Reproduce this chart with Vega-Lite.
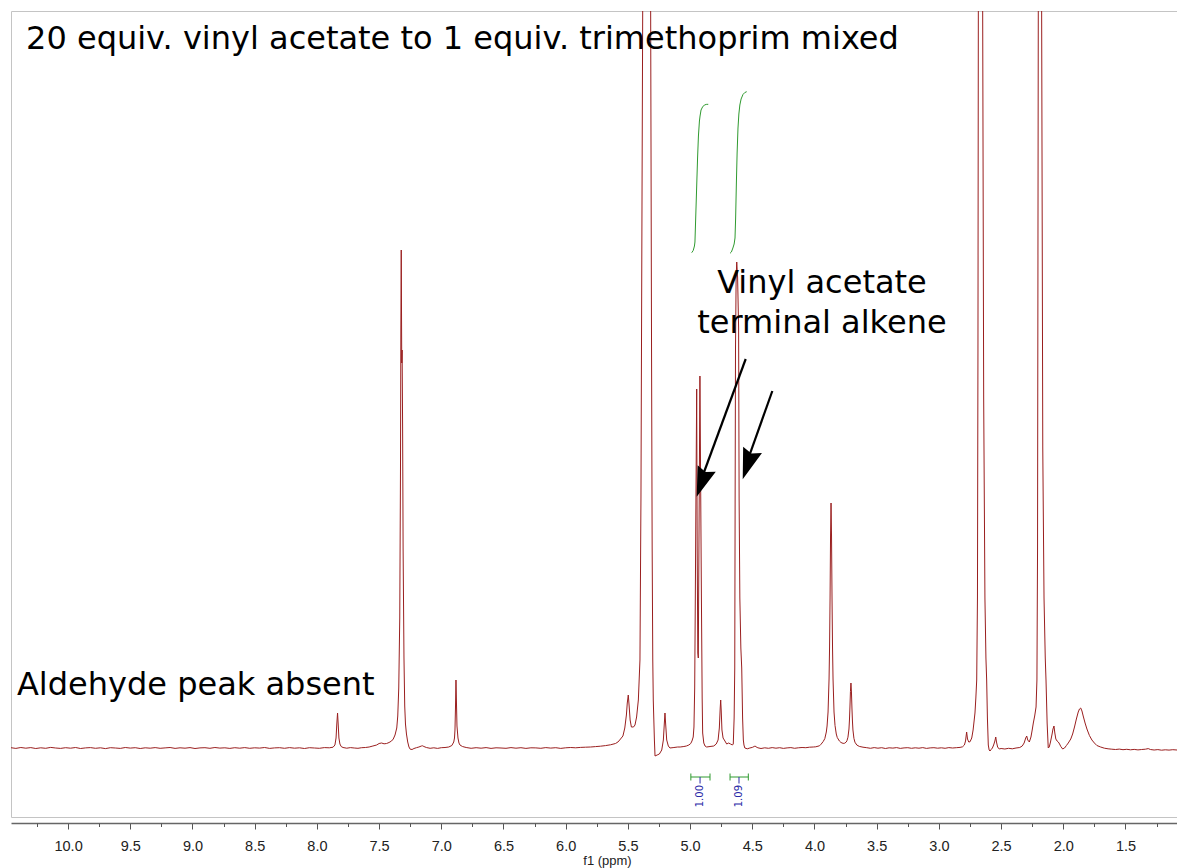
{
  "$schema": "https://vega.github.io/schema/vega-lite/v6.json",
  "width": 1166,
  "height": 806,
  "autosize": {"type": "none"},
  "padding": {"left": 11, "top": 11, "right": 0, "bottom": 51},
  "background": "white",
  "config": {
    "view": {"stroke": "#c4c4c4", "strokeWidth": 1},
    "axisY": {"disable": true}
  },
  "resolve": {"axis": {"x": "independent"}},
  "datasets": {
    "spectrum": [
      {"ppm": 10.46, "intensity": 0.3}, {"ppm": 10.42, "intensity": -0.4}, {"ppm": 10.38, "intensity": 0.5}, {"ppm": 10.34, "intensity": -0.2},
      {"ppm": 10.30, "intensity": 0.4}, {"ppm": 10.26, "intensity": -0.5}, {"ppm": 10.22, "intensity": 0.2}, {"ppm": 10.18, "intensity": -0.3},
      {"ppm": 10.14, "intensity": 0.6}, {"ppm": 10.10, "intensity": 0}, {"ppm": 10.06, "intensity": -0.4}, {"ppm": 10.02, "intensity": 0.3},
      {"ppm": 9.98, "intensity": -0.2}, {"ppm": 9.94, "intensity": 0.5}, {"ppm": 9.90, "intensity": -0.5}, {"ppm": 9.86, "intensity": 0.1},
      {"ppm": 9.82, "intensity": 0.4}, {"ppm": 9.78, "intensity": -0.3}, {"ppm": 9.74, "intensity": 0.2}, {"ppm": 9.70, "intensity": -0.6},
      {"ppm": 9.66, "intensity": 0.3}, {"ppm": 9.62, "intensity": 0}, {"ppm": 9.58, "intensity": -0.4}, {"ppm": 9.54, "intensity": 0.5},
      {"ppm": 9.50, "intensity": -0.1}, {"ppm": 9.46, "intensity": 0.3}, {"ppm": 9.42, "intensity": -0.5}, {"ppm": 9.38, "intensity": 0.2},
      {"ppm": 9.34, "intensity": -0.2}, {"ppm": 9.30, "intensity": 0.4}, {"ppm": 9.26, "intensity": -0.3}, {"ppm": 9.22, "intensity": 0.1},
      {"ppm": 9.18, "intensity": 0.5}, {"ppm": 9.14, "intensity": -0.4}, {"ppm": 9.10, "intensity": 0.2}, {"ppm": 9.06, "intensity": -0.2},
      {"ppm": 9.02, "intensity": 0.4}, {"ppm": 8.98, "intensity": -0.5}, {"ppm": 8.94, "intensity": 0.1}, {"ppm": 8.90, "intensity": 0.3},
      {"ppm": 8.86, "intensity": -0.3}, {"ppm": 8.82, "intensity": 0.5}, {"ppm": 8.78, "intensity": -0.1}, {"ppm": 8.74, "intensity": 0.2},
      {"ppm": 8.70, "intensity": -0.4}, {"ppm": 8.66, "intensity": 0.3}, {"ppm": 8.62, "intensity": -0.2}, {"ppm": 8.58, "intensity": 0.4},
      {"ppm": 8.54, "intensity": -0.3}, {"ppm": 8.50, "intensity": 0.2}, {"ppm": 8.46, "intensity": -0.1}, {"ppm": 8.42, "intensity": 0.5},
      {"ppm": 8.38, "intensity": -0.4}, {"ppm": 8.34, "intensity": 0.1}, {"ppm": 8.30, "intensity": 0.3}, {"ppm": 8.26, "intensity": -0.3},
      {"ppm": 8.22, "intensity": 0.4}, {"ppm": 8.18, "intensity": -0.2}, {"ppm": 8.14, "intensity": 0.2}, {"ppm": 8.10, "intensity": -0.5},
      {"ppm": 8.06, "intensity": 0.3}, {"ppm": 8.02, "intensity": 0}, {"ppm": 7.98, "intensity": -0.3}, {"ppm": 7.94, "intensity": 0.4},
      {"ppm": 7.90, "intensity": 0.2}, {"ppm": 7.87, "intensity": 0.8}, {"ppm": 7.855, "intensity": 3}, {"ppm": 7.846, "intensity": 10},
      {"ppm": 7.84, "intensity": 24}, {"ppm": 7.834, "intensity": 35}, {"ppm": 7.829, "intensity": 24}, {"ppm": 7.823, "intensity": 10},
      {"ppm": 7.815, "intensity": 4}, {"ppm": 7.805, "intensity": 1.5}, {"ppm": 7.79, "intensity": 0.5}, {"ppm": 7.76, "intensity": -0.2},
      {"ppm": 7.73, "intensity": 0.4}, {"ppm": 7.70, "intensity": 0}, {"ppm": 7.67, "intensity": -0.3}, {"ppm": 7.64, "intensity": 0.3},
      {"ppm": 7.61, "intensity": 0.5}, {"ppm": 7.58, "intensity": 1}, {"ppm": 7.55, "intensity": 2}, {"ppm": 7.52, "intensity": 3},
      {"ppm": 7.50, "intensity": 4.5}, {"ppm": 7.48, "intensity": 5}, {"ppm": 7.46, "intensity": 4.2}, {"ppm": 7.44, "intensity": 4.5},
      {"ppm": 7.42, "intensity": 5.5}, {"ppm": 7.40, "intensity": 7}, {"ppm": 7.386, "intensity": 9}, {"ppm": 7.372, "intensity": 13},
      {"ppm": 7.358, "intensity": 20}, {"ppm": 7.35, "intensity": 32}, {"ppm": 7.342, "intensity": 60}, {"ppm": 7.334, "intensity": 130},
      {"ppm": 7.328, "intensity": 280}, {"ppm": 7.325, "intensity": 420}, {"ppm": 7.322, "intensity": 498}, {"ppm": 7.318, "intensity": 385},
      {"ppm": 7.315, "intensity": 398}, {"ppm": 7.311, "intensity": 320}, {"ppm": 7.307, "intensity": 200}, {"ppm": 7.30, "intensity": 90},
      {"ppm": 7.294, "intensity": 42}, {"ppm": 7.288, "intensity": 24}, {"ppm": 7.28, "intensity": 14}, {"ppm": 7.27, "intensity": 6},
      {"ppm": 7.26, "intensity": 1}, {"ppm": 7.25, "intensity": -1.2}, {"ppm": 7.235, "intensity": -1.5}, {"ppm": 7.22, "intensity": -0.5},
      {"ppm": 7.20, "intensity": 0.3}, {"ppm": 7.18, "intensity": 1}, {"ppm": 7.16, "intensity": 2}, {"ppm": 7.15, "intensity": 2.2},
      {"ppm": 7.14, "intensity": 1.5}, {"ppm": 7.12, "intensity": 0.5}, {"ppm": 7.09, "intensity": -0.3}, {"ppm": 7.06, "intensity": 0.2},
      {"ppm": 7.03, "intensity": -0.4}, {"ppm": 7.00, "intensity": 0.3}, {"ppm": 6.97, "intensity": 0.5}, {"ppm": 6.94, "intensity": 1},
      {"ppm": 6.915, "intensity": 2.5}, {"ppm": 6.90, "intensity": 6}, {"ppm": 6.894, "intensity": 10}, {"ppm": 6.89, "intensity": 18},
      {"ppm": 6.886, "intensity": 40}, {"ppm": 6.882, "intensity": 68}, {"ppm": 6.878, "intensity": 45}, {"ppm": 6.874, "intensity": 22},
      {"ppm": 6.866, "intensity": 10}, {"ppm": 6.858, "intensity": 5}, {"ppm": 6.85, "intensity": 3}, {"ppm": 6.83, "intensity": 1.5},
      {"ppm": 6.80, "intensity": 0.5}, {"ppm": 6.76, "intensity": -0.3}, {"ppm": 6.72, "intensity": 0.3}, {"ppm": 6.68, "intensity": -0.2},
      {"ppm": 6.64, "intensity": 0.4}, {"ppm": 6.60, "intensity": -0.4}, {"ppm": 6.56, "intensity": 0.2}, {"ppm": 6.52, "intensity": 0},
      {"ppm": 6.48, "intensity": -0.3}, {"ppm": 6.44, "intensity": 0.4}, {"ppm": 6.40, "intensity": -0.2}, {"ppm": 6.36, "intensity": 0.3},
      {"ppm": 6.32, "intensity": -0.4}, {"ppm": 6.28, "intensity": 0.2}, {"ppm": 6.24, "intensity": 0.1}, {"ppm": 6.20, "intensity": -0.3},
      {"ppm": 6.16, "intensity": 0.4}, {"ppm": 6.12, "intensity": -0.1}, {"ppm": 6.08, "intensity": 0.3}, {"ppm": 6.04, "intensity": -0.4},
      {"ppm": 6.00, "intensity": 0.2}, {"ppm": 5.96, "intensity": 0.5}, {"ppm": 5.92, "intensity": 0.2}, {"ppm": 5.88, "intensity": 0.6},
      {"ppm": 5.84, "intensity": 0.8}, {"ppm": 5.80, "intensity": 1}, {"ppm": 5.76, "intensity": 1.4}, {"ppm": 5.72, "intensity": 1.8},
      {"ppm": 5.68, "intensity": 2.4}, {"ppm": 5.64, "intensity": 3.2}, {"ppm": 5.60, "intensity": 4.5}, {"ppm": 5.58, "intensity": 6},
      {"ppm": 5.566, "intensity": 8}, {"ppm": 5.54, "intensity": 12}, {"ppm": 5.525, "intensity": 20}, {"ppm": 5.512, "intensity": 33},
      {"ppm": 5.505, "intensity": 45}, {"ppm": 5.497, "intensity": 53}, {"ppm": 5.49, "intensity": 42}, {"ppm": 5.482, "intensity": 28},
      {"ppm": 5.472, "intensity": 21}, {"ppm": 5.455, "intensity": 21}, {"ppm": 5.443, "intensity": 23}, {"ppm": 5.43, "intensity": 31},
      {"ppm": 5.416, "intensity": 48}, {"ppm": 5.403, "intensity": 88}, {"ppm": 5.395, "intensity": 250}, {"ppm": 5.388, "intensity": 500},
      {"ppm": 5.381, "intensity": 737}, {"ppm": 5.37, "intensity": 1500}, {"ppm": 5.35, "intensity": 2500}, {"ppm": 5.33, "intensity": 1500},
      {"ppm": 5.317, "intensity": 737}, {"ppm": 5.31, "intensity": 400}, {"ppm": 5.305, "intensity": 200}, {"ppm": 5.30, "intensity": 88},
      {"ppm": 5.296, "intensity": 48}, {"ppm": 5.287, "intensity": 8}, {"ppm": 5.282, "intensity": -8}, {"ppm": 5.265, "intensity": -7},
      {"ppm": 5.247, "intensity": -6}, {"ppm": 5.228, "intensity": -2}, {"ppm": 5.215, "intensity": 8}, {"ppm": 5.207, "intensity": 25},
      {"ppm": 5.202, "intensity": 35}, {"ppm": 5.197, "intensity": 25}, {"ppm": 5.188, "intensity": 8}, {"ppm": 5.175, "intensity": 2},
      {"ppm": 5.162, "intensity": 0}, {"ppm": 5.13, "intensity": 0.5}, {"ppm": 5.10, "intensity": 1}, {"ppm": 5.08, "intensity": 1},
      {"ppm": 5.05, "intensity": 1.5}, {"ppm": 5.03, "intensity": 2}, {"ppm": 5.01, "intensity": 3}, {"ppm": 4.995, "intensity": 4.5},
      {"ppm": 4.985, "intensity": 7}, {"ppm": 4.975, "intensity": 11}, {"ppm": 4.969, "intensity": 21}, {"ppm": 4.963, "intensity": 60},
      {"ppm": 4.958, "intensity": 150}, {"ppm": 4.953, "intensity": 250}, {"ppm": 4.947, "intensity": 359}, {"ppm": 4.943, "intensity": 200},
      {"ppm": 4.938, "intensity": 95}, {"ppm": 4.934, "intensity": 90}, {"ppm": 4.929, "intensity": 200}, {"ppm": 4.921, "intensity": 372},
      {"ppm": 4.915, "intensity": 260}, {"ppm": 4.909, "intensity": 150}, {"ppm": 4.903, "intensity": 50}, {"ppm": 4.899, "intensity": 15},
      {"ppm": 4.89, "intensity": 5}, {"ppm": 4.88, "intensity": 2}, {"ppm": 4.867, "intensity": 1}, {"ppm": 4.84, "intensity": 1.5},
      {"ppm": 4.81, "intensity": 2}, {"ppm": 4.79, "intensity": 4}, {"ppm": 4.775, "intensity": 8}, {"ppm": 4.765, "intensity": 20},
      {"ppm": 4.758, "intensity": 40}, {"ppm": 4.754, "intensity": 48}, {"ppm": 4.75, "intensity": 38}, {"ppm": 4.744, "intensity": 18},
      {"ppm": 4.735, "intensity": 10}, {"ppm": 4.72, "intensity": 7}, {"ppm": 4.706, "intensity": 4}, {"ppm": 4.69, "intensity": 5},
      {"ppm": 4.675, "intensity": 4}, {"ppm": 4.66, "intensity": 3}, {"ppm": 4.653, "intensity": 4}, {"ppm": 4.646, "intensity": 30},
      {"ppm": 4.641, "intensity": 80}, {"ppm": 4.638, "intensity": 250}, {"ppm": 4.635, "intensity": 400}, {"ppm": 4.63, "intensity": 470},
      {"ppm": 4.625, "intensity": 486}, {"ppm": 4.618, "intensity": 470}, {"ppm": 4.61, "intensity": 420}, {"ppm": 4.606, "intensity": 250},
      {"ppm": 4.60, "intensity": 150}, {"ppm": 4.592, "intensity": 100}, {"ppm": 4.585, "intensity": 80}, {"ppm": 4.578, "intensity": 30},
      {"ppm": 4.572, "intensity": 8}, {"ppm": 4.567, "intensity": 3}, {"ppm": 4.56, "intensity": 0}, {"ppm": 4.54, "intensity": -0.8},
      {"ppm": 4.52, "intensity": 0}, {"ppm": 4.50, "intensity": 0.6}, {"ppm": 4.485, "intensity": 1.5}, {"ppm": 4.478, "intensity": 2},
      {"ppm": 4.47, "intensity": 1.2}, {"ppm": 4.455, "intensity": 0.2}, {"ppm": 4.43, "intensity": -0.5}, {"ppm": 4.40, "intensity": 0.2},
      {"ppm": 4.37, "intensity": -0.3}, {"ppm": 4.34, "intensity": 0.4}, {"ppm": 4.31, "intensity": -0.2}, {"ppm": 4.28, "intensity": 0.3},
      {"ppm": 4.25, "intensity": -0.4}, {"ppm": 4.22, "intensity": 0.1}, {"ppm": 4.19, "intensity": 0.4}, {"ppm": 4.16, "intensity": -0.3},
      {"ppm": 4.13, "intensity": 0.2}, {"ppm": 4.10, "intensity": 0.5}, {"ppm": 4.07, "intensity": 0.3}, {"ppm": 4.04, "intensity": 0.8},
      {"ppm": 4.01, "intensity": 1}, {"ppm": 3.99, "intensity": 1.2}, {"ppm": 3.96, "intensity": 2.2}, {"ppm": 3.947, "intensity": 3.8},
      {"ppm": 3.93, "intensity": 6.5}, {"ppm": 3.917, "intensity": 9.4}, {"ppm": 3.905, "intensity": 16}, {"ppm": 3.899, "intensity": 22},
      {"ppm": 3.891, "intensity": 36}, {"ppm": 3.883, "intensity": 69}, {"ppm": 3.879, "intensity": 100}, {"ppm": 3.875, "intensity": 149},
      {"ppm": 3.871, "intensity": 211}, {"ppm": 3.867, "intensity": 245}, {"ppm": 3.863, "intensity": 211}, {"ppm": 3.859, "intensity": 149},
      {"ppm": 3.855, "intensity": 100}, {"ppm": 3.851, "intensity": 69}, {"ppm": 3.843, "intensity": 36}, {"ppm": 3.835, "intensity": 22.5},
      {"ppm": 3.825, "intensity": 14}, {"ppm": 3.817, "intensity": 10.5}, {"ppm": 3.80, "intensity": 7}, {"ppm": 3.787, "intensity": 5.5},
      {"ppm": 3.77, "intensity": 4.6}, {"ppm": 3.757, "intensity": 4.8}, {"ppm": 3.745, "intensity": 6}, {"ppm": 3.739, "intensity": 7.3},
      {"ppm": 3.731, "intensity": 10.8}, {"ppm": 3.723, "intensity": 19}, {"ppm": 3.719, "intensity": 28}, {"ppm": 3.715, "intensity": 41},
      {"ppm": 3.711, "intensity": 56.5}, {"ppm": 3.707, "intensity": 65}, {"ppm": 3.703, "intensity": 56}, {"ppm": 3.699, "intensity": 40},
      {"ppm": 3.695, "intensity": 27}, {"ppm": 3.691, "intensity": 18}, {"ppm": 3.683, "intensity": 9.6}, {"ppm": 3.675, "intensity": 5.8},
      {"ppm": 3.66, "intensity": 3}, {"ppm": 3.64, "intensity": 1.6}, {"ppm": 3.61, "intensity": 0.8}, {"ppm": 3.58, "intensity": 0.3},
      {"ppm": 3.55, "intensity": -0.3}, {"ppm": 3.52, "intensity": 0.4}, {"ppm": 3.49, "intensity": -0.2}, {"ppm": 3.46, "intensity": 0.3},
      {"ppm": 3.43, "intensity": -0.5}, {"ppm": 3.40, "intensity": 0.2}, {"ppm": 3.37, "intensity": -0.1}, {"ppm": 3.34, "intensity": 0.4},
      {"ppm": 3.31, "intensity": -0.4}, {"ppm": 3.28, "intensity": 0.1}, {"ppm": 3.25, "intensity": 0.3}, {"ppm": 3.22, "intensity": -0.3},
      {"ppm": 3.19, "intensity": 0.2}, {"ppm": 3.16, "intensity": -0.2}, {"ppm": 3.13, "intensity": 0.4}, {"ppm": 3.10, "intensity": -0.4},
      {"ppm": 3.07, "intensity": 0.1}, {"ppm": 3.04, "intensity": 0.3}, {"ppm": 3.01, "intensity": -0.2}, {"ppm": 2.98, "intensity": 0.2},
      {"ppm": 2.95, "intensity": -0.3}, {"ppm": 2.92, "intensity": 0.4}, {"ppm": 2.89, "intensity": 0}, {"ppm": 2.86, "intensity": 0.3},
      {"ppm": 2.83, "intensity": 0.6}, {"ppm": 2.81, "intensity": 1.2}, {"ppm": 2.795, "intensity": 3}, {"ppm": 2.786, "intensity": 7},
      {"ppm": 2.777, "intensity": 16}, {"ppm": 2.77, "intensity": 9}, {"ppm": 2.76, "intensity": 6}, {"ppm": 2.75, "intensity": 6.2},
      {"ppm": 2.736, "intensity": 10}, {"ppm": 2.725, "intensity": 18}, {"ppm": 2.71, "intensity": 35}, {"ppm": 2.703, "intensity": 50},
      {"ppm": 2.696, "intensity": 68}, {"ppm": 2.69, "intensity": 150}, {"ppm": 2.686, "intensity": 400}, {"ppm": 2.683, "intensity": 737},
      {"ppm": 2.675, "intensity": 2000}, {"ppm": 2.665, "intensity": 3000}, {"ppm": 2.655, "intensity": 2000}, {"ppm": 2.648, "intensity": 737},
      {"ppm": 2.64, "intensity": 350}, {"ppm": 2.63, "intensity": 150}, {"ppm": 2.622, "intensity": 90}, {"ppm": 2.616, "intensity": 68},
      {"ppm": 2.61, "intensity": 30}, {"ppm": 2.603, "intensity": 3}, {"ppm": 2.596, "intensity": -2}, {"ppm": 2.589, "intensity": -3},
      {"ppm": 2.58, "intensity": -1.5}, {"ppm": 2.57, "intensity": 0}, {"ppm": 2.56, "intensity": 3}, {"ppm": 2.55, "intensity": 7},
      {"ppm": 2.543, "intensity": 11}, {"ppm": 2.537, "intensity": 6}, {"ppm": 2.528, "intensity": 1}, {"ppm": 2.515, "intensity": -1},
      {"ppm": 2.50, "intensity": -0.5}, {"ppm": 2.47, "intensity": -1}, {"ppm": 2.44, "intensity": -0.3}, {"ppm": 2.41, "intensity": -0.8},
      {"ppm": 2.38, "intensity": 0}, {"ppm": 2.35, "intensity": 0.5}, {"ppm": 2.33, "intensity": 2}, {"ppm": 2.315, "intensity": 5},
      {"ppm": 2.302, "intensity": 10}, {"ppm": 2.294, "intensity": 12}, {"ppm": 2.286, "intensity": 8}, {"ppm": 2.273, "intensity": 6},
      {"ppm": 2.26, "intensity": 11}, {"ppm": 2.25, "intensity": 18}, {"ppm": 2.241, "intensity": 25}, {"ppm": 2.23, "intensity": 32},
      {"ppm": 2.219, "intensity": 41}, {"ppm": 2.212, "intensity": 68}, {"ppm": 2.207, "intensity": 200}, {"ppm": 2.201, "intensity": 737},
      {"ppm": 2.195, "intensity": 2500}, {"ppm": 2.188, "intensity": 3500}, {"ppm": 2.181, "intensity": 2500}, {"ppm": 2.174, "intensity": 737},
      {"ppm": 2.165, "intensity": 300}, {"ppm": 2.155, "intensity": 150}, {"ppm": 2.145, "intensity": 90}, {"ppm": 2.139, "intensity": 68},
      {"ppm": 2.13, "intensity": 25}, {"ppm": 2.121, "intensity": 0}, {"ppm": 2.113, "intensity": 1}, {"ppm": 2.103, "intensity": 6},
      {"ppm": 2.09, "intensity": 14}, {"ppm": 2.083, "intensity": 19}, {"ppm": 2.075, "intensity": 22}, {"ppm": 2.068, "intensity": 15},
      {"ppm": 2.06, "intensity": 9}, {"ppm": 2.05, "intensity": 7}, {"ppm": 2.04, "intensity": 6}, {"ppm": 2.03, "intensity": 4},
      {"ppm": 2.02, "intensity": 1.5}, {"ppm": 2.005, "intensity": -1}, {"ppm": 1.99, "intensity": 0}, {"ppm": 1.975, "intensity": 2.5},
      {"ppm": 1.96, "intensity": 5}, {"ppm": 1.94, "intensity": 9}, {"ppm": 1.925, "intensity": 14}, {"ppm": 1.91, "intensity": 21},
      {"ppm": 1.895, "intensity": 29}, {"ppm": 1.88, "intensity": 36}, {"ppm": 1.87, "intensity": 39}, {"ppm": 1.86, "intensity": 40},
      {"ppm": 1.85, "intensity": 37}, {"ppm": 1.84, "intensity": 32}, {"ppm": 1.825, "intensity": 25}, {"ppm": 1.81, "intensity": 19},
      {"ppm": 1.79, "intensity": 12.5}, {"ppm": 1.77, "intensity": 8}, {"ppm": 1.75, "intensity": 5}, {"ppm": 1.73, "intensity": 2.5},
      {"ppm": 1.70, "intensity": 1}, {"ppm": 1.67, "intensity": -0.2}, {"ppm": 1.64, "intensity": -0.8}, {"ppm": 1.61, "intensity": -1.2},
      {"ppm": 1.58, "intensity": -1.5}, {"ppm": 1.55, "intensity": -1.1}, {"ppm": 1.52, "intensity": -1.7}, {"ppm": 1.49, "intensity": -1.3},
      {"ppm": 1.46, "intensity": -1.8}, {"ppm": 1.43, "intensity": -1.4}, {"ppm": 1.40, "intensity": -1.9}, {"ppm": 1.37, "intensity": -1.5},
      {"ppm": 1.34, "intensity": -1.2}, {"ppm": 1.317, "intensity": -0.6}, {"ppm": 1.30, "intensity": -1.5}, {"ppm": 1.27, "intensity": -2},
      {"ppm": 1.24, "intensity": -1.6}, {"ppm": 1.21, "intensity": -2.2}, {"ppm": 1.18, "intensity": -1.8}, {"ppm": 1.15, "intensity": -2.1},
      {"ppm": 1.12, "intensity": -1.7}, {"ppm": 1.086, "intensity": -2}
    ],
    "integrals": [
      {"region": 1, "ppm": 4.987, "integral": 495.3}, {"region": 1, "ppm": 4.975, "integral": 497.5}, {"region": 1, "ppm": 4.965, "integral": 502},
      {"region": 1, "ppm": 4.961, "integral": 506}, {"region": 1, "ppm": 4.955, "integral": 530}, {"region": 1, "ppm": 4.947, "integral": 562},
      {"region": 1, "ppm": 4.94, "integral": 590}, {"region": 1, "ppm": 4.933, "integral": 612}, {"region": 1, "ppm": 4.925, "integral": 627},
      {"region": 1, "ppm": 4.92, "integral": 632}, {"region": 1, "ppm": 4.912, "integral": 638}, {"region": 1, "ppm": 4.90, "integral": 641},
      {"region": 1, "ppm": 4.885, "integral": 643}, {"region": 1, "ppm": 4.87, "integral": 643.6}, {"region": 1, "ppm": 4.854, "integral": 643.7},
      {"region": 2, "ppm": 4.679, "integral": 494.7}, {"region": 2, "ppm": 4.668, "integral": 496}, {"region": 2, "ppm": 4.656, "integral": 500},
      {"region": 2, "ppm": 4.646, "integral": 504}, {"region": 2, "ppm": 4.639, "integral": 510}, {"region": 2, "ppm": 4.634, "integral": 530},
      {"region": 2, "ppm": 4.628, "integral": 565}, {"region": 2, "ppm": 4.622, "integral": 595}, {"region": 2, "ppm": 4.615, "integral": 620},
      {"region": 2, "ppm": 4.608, "integral": 634}, {"region": 2, "ppm": 4.60, "integral": 643}, {"region": 2, "ppm": 4.59, "integral": 649},
      {"region": 2, "ppm": 4.575, "integral": 653.5}, {"region": 2, "ppm": 4.56, "integral": 655.5}, {"region": 2, "ppm": 4.545, "integral": 656.3}
    ],
    "ranges": [
      {"from": 4.994, "to": 4.84, "center": 4.92, "value": "1.00"},
      {"from": 4.679, "to": 4.532, "center": 4.607, "value": "1.09"}
    ],
    "notes": [{}]
  },
  "layer": [
    {
      "data": {"name": "spectrum"},
      "mark": {"type": "line", "color": "#9a1f1f", "strokeWidth": 1, "clip": true, "interpolate": "linear"},
      "encoding": {
        "x": {
          "field": "ppm", "type": "quantitative",
          "scale": {"domain": [1.086, 10.459], "reverse": true, "nice": false, "zero": false},
          "axis": {
            "orient": "bottom", "offset": 6, "grid": false,
            "values": [10, 9.5, 9, 8.5, 8, 7.5, 7, 6.5, 6, 5.5, 5, 4.5, 4, 3.5, 3, 2.5, 2, 1.5],
            "format": ".1f",
            "tickSize": 6, "tickColor": "#555555", "tickWidth": 1,
            "domainColor": "#666666", "domainWidth": 1.5,
            "labelFont": "Liberation Sans", "labelFontSize": 14.5, "labelColor": "#222222",
            "labelPadding": 10, "labelOverlap": false, "labelBound": false, "labelFlush": false,
            "title": "f1 (ppm)", "titleFont": "Liberation Sans", "titleFontSize": 13, "titleFontWeight": "normal",
            "titleColor": "#222222", "titleX": 596, "titleY": 31, "titleBaseline": "top"
          }
        },
        "y": {
          "field": "intensity", "type": "quantitative",
          "scale": {"domain": [-69, 737], "nice": false, "zero": false},
          "axis": null
        }
      }
    },
    {
      "data": {"name": "integrals"},
      "mark": {"type": "line", "color": "#2f9a2f", "strokeWidth": 1},
      "encoding": {
        "x": {
          "field": "ppm", "type": "quantitative",
          "axis": {
            "orient": "bottom", "offset": 6, "grid": false, "domain": false, "labels": false, "title": null,
            "values": [10.25, 9.75, 9.25, 8.75, 8.25, 7.75, 7.25, 6.75, 6.25, 5.75, 5.25, 4.75, 4.25, 3.75, 3.25, 2.75, 2.25, 1.75, 1.25],
            "tickSize": 3.5, "tickColor": "#555555", "tickWidth": 1
          }
        },
        "y": {"field": "integral", "type": "quantitative", "axis": null},
        "detail": {"field": "region", "type": "nominal"}
      }
    },
    {
      "data": {"name": "ranges"},
      "mark": {"type": "rule", "color": "#2f9a2f", "strokeWidth": 1},
      "encoding": {
        "x": {"field": "from", "type": "quantitative", "axis": null},
        "x2": {"field": "to"},
        "y": {"datum": -29, "axis": null}
      }
    },
    {
      "data": {"name": "ranges"},
      "mark": {"type": "rule", "color": "#2f9a2f", "strokeWidth": 1},
      "encoding": {
        "x": {"field": "from", "type": "quantitative", "axis": null},
        "y": {"datum": -25.5, "axis": null},
        "y2": {"datum": -32.5}
      }
    },
    {
      "data": {"name": "ranges"},
      "mark": {"type": "rule", "color": "#2f9a2f", "strokeWidth": 1},
      "encoding": {
        "x": {"field": "to", "type": "quantitative", "axis": null},
        "y": {"datum": -25.5, "axis": null},
        "y2": {"datum": -32.5}
      }
    },
    {
      "data": {"name": "ranges"},
      "mark": {"type": "rule", "color": "#2a2aa8", "strokeWidth": 1},
      "encoding": {
        "x": {"field": "center", "type": "quantitative", "axis": null},
        "y": {"datum": -29, "axis": null},
        "y2": {"datum": -35.5}
      }
    },
    {
      "data": {"name": "ranges"},
      "mark": {"type": "text", "color": "#2a2aa8", "font": "DejaVu Sans", "fontSize": 10, "angle": 270, "align": "right", "baseline": "middle"},
      "encoding": {
        "x": {"field": "center", "type": "quantitative", "axis": null},
        "y": {"datum": -37, "axis": null},
        "text": {"field": "value"}
      }
    },
    {
      "data": {"name": "notes"},
      "mark": {"type": "rule", "color": "black", "strokeWidth": 2.2},
      "encoding": {
        "x": {"datum": 4.553, "axis": null}, "y": {"datum": 389, "axis": null},
        "x2": {"datum": 4.935}, "y2": {"datum": 260}
      }
    },
    {
      "data": {"name": "notes"},
      "mark": {"type": "rule", "color": "black", "strokeWidth": 2.2},
      "encoding": {
        "x": {"datum": 4.339, "axis": null}, "y": {"datum": 357, "axis": null},
        "x2": {"datum": 4.565}, "y2": {"datum": 278}
      }
    },
    {
      "data": {"name": "notes"},
      "mark": {"type": "point", "shape": "M0,0L-0.64,-2L0,-1.75L0.64,-2Z", "filled": true, "color": "black", "opacity": 1, "size": 900, "angle": 19.5},
      "encoding": {"x": {"datum": 4.947, "axis": null}, "y": {"datum": 251.3, "axis": null}}
    },
    {
      "data": {"name": "notes"},
      "mark": {"type": "point", "shape": "M0,0L-0.64,-2L0,-1.75L0.64,-2Z", "filled": true, "color": "black", "opacity": 1, "size": 960, "angle": 18.5},
      "encoding": {"x": {"datum": 4.577, "axis": null}, "y": {"datum": 268.7, "axis": null}}
    },
    {
      "data": {"name": "notes"},
      "mark": {"type": "text", "font": "DejaVu Sans", "fontSize": 32, "color": "black", "align": "left", "baseline": "alphabetic"},
      "encoding": {"x": {"datum": 10.338, "axis": null}, "y": {"datum": 699, "axis": null}, "text": {"value": "20 equiv. vinyl acetate to 1 equiv. trimethoprim mixed"}}
    },
    {
      "data": {"name": "notes"},
      "mark": {"type": "text", "font": "DejaVu Sans", "fontSize": 32, "color": "black", "align": "left", "baseline": "alphabetic"},
      "encoding": {"x": {"datum": 10.411, "axis": null}, "y": {"datum": 53, "axis": null}, "text": {"value": "Aldehyde peak absent"}}
    },
    {
      "data": {"name": "notes"},
      "mark": {"type": "text", "font": "DejaVu Sans", "fontSize": 32, "color": "black", "align": "center", "baseline": "alphabetic"},
      "encoding": {"x": {"datum": 3.94, "axis": null}, "y": {"datum": 455, "axis": null}, "text": {"value": "Vinyl acetate"}}
    },
    {
      "data": {"name": "notes"},
      "mark": {"type": "text", "font": "DejaVu Sans", "fontSize": 32, "color": "black", "align": "center", "baseline": "alphabetic"},
      "encoding": {"x": {"datum": 3.94, "axis": null}, "y": {"datum": 415, "axis": null}, "text": {"value": "terminal alkene"}}
    }
  ]
}
